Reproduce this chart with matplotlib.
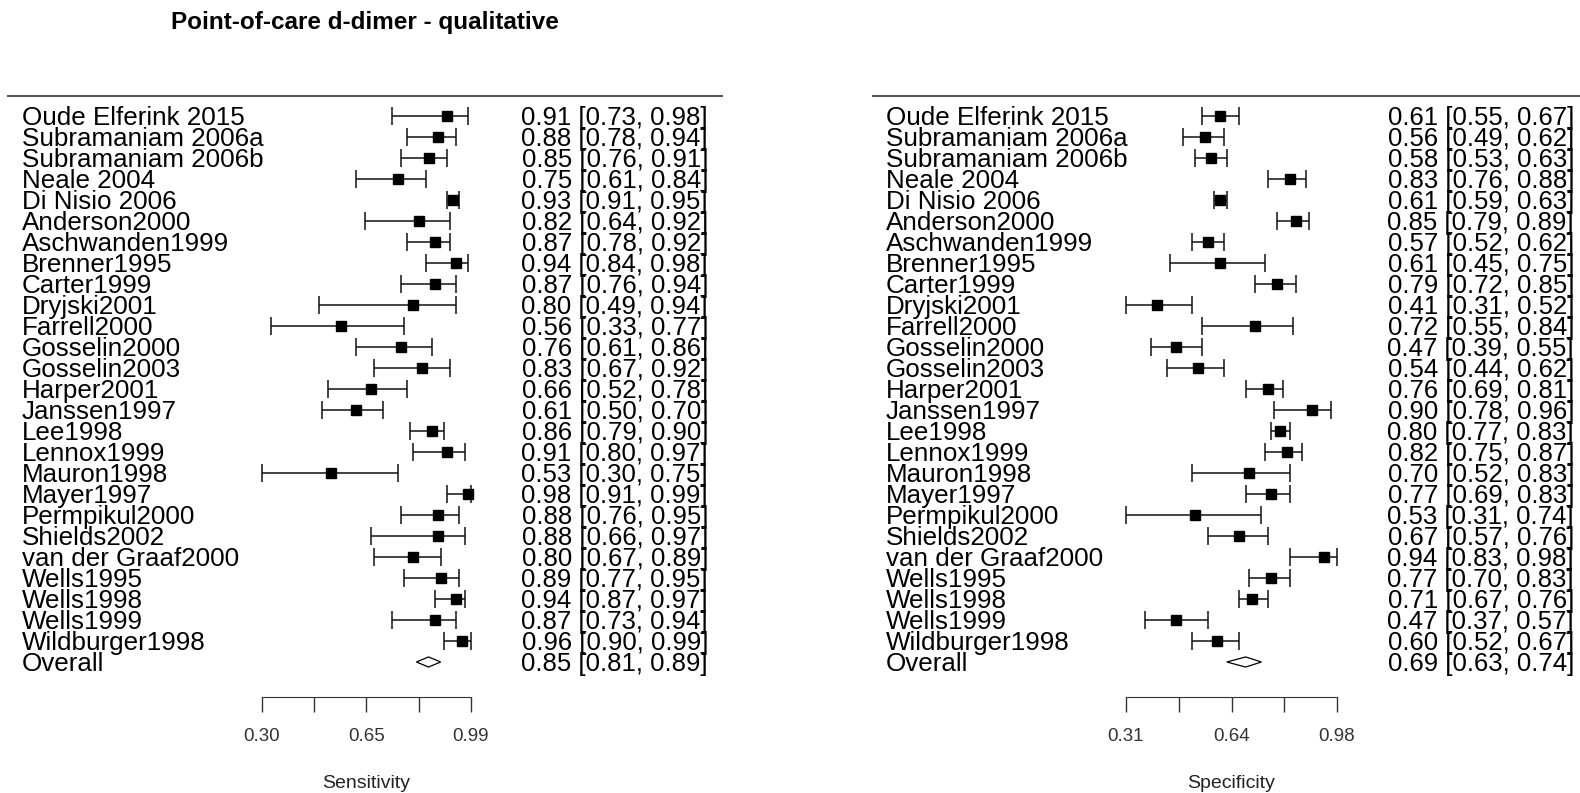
# Forest plot: sensitivity / specificity of point-of-care d-dimer (qualitative)
import numpy as np
import matplotlib.pyplot as plt
from matplotlib.lines import Line2D
from matplotlib import transforms

plt.rcParams['font.family'] = ['Liberation Sans', 'DejaVu Sans']

# data
studies = ['Oude Elferink 2015', 'Subramaniam 2006a', 'Subramaniam 2006b', 'Neale 2004',
           'Di Nisio 2006', 'Anderson2000', 'Aschwanden1999', 'Brenner1995', 'Carter1999',
           'Dryjski2001', 'Farrell2000', 'Gosselin2000', 'Gosselin2003', 'Harper2001',
           'Janssen1997', 'Lee1998', 'Lennox1999', 'Mauron1998', 'Mayer1997',
           'Permpikul2000', 'Shields2002', 'van der Graaf2000', 'Wells1995', 'Wells1998',
           'Wells1999', 'Wildburger1998']

sens    = [0.91, 0.88, 0.85, 0.75, 0.93, 0.82, 0.87, 0.94, 0.87, 0.80, 0.56, 0.76, 0.83,
           0.66, 0.61, 0.86, 0.91, 0.53, 0.98, 0.88, 0.88, 0.80, 0.89, 0.94, 0.87, 0.96]
sens_lo = [0.73, 0.78, 0.76, 0.61, 0.91, 0.64, 0.78, 0.84, 0.76, 0.49, 0.33, 0.61, 0.67,
           0.52, 0.50, 0.79, 0.80, 0.30, 0.91, 0.76, 0.66, 0.67, 0.77, 0.87, 0.73, 0.90]
sens_hi = [0.98, 0.94, 0.91, 0.84, 0.95, 0.92, 0.92, 0.98, 0.94, 0.94, 0.77, 0.86, 0.92,
           0.78, 0.70, 0.90, 0.97, 0.75, 0.99, 0.95, 0.97, 0.89, 0.95, 0.97, 0.94, 0.99]

spec    = [0.61, 0.56, 0.58, 0.83, 0.61, 0.85, 0.57, 0.61, 0.79, 0.41, 0.72, 0.47, 0.54,
           0.76, 0.90, 0.80, 0.82, 0.70, 0.77, 0.53, 0.67, 0.94, 0.77, 0.71, 0.47, 0.60]
spec_lo = [0.55, 0.49, 0.53, 0.76, 0.59, 0.79, 0.52, 0.45, 0.72, 0.31, 0.55, 0.39, 0.44,
           0.69, 0.78, 0.77, 0.75, 0.52, 0.69, 0.31, 0.57, 0.83, 0.70, 0.67, 0.37, 0.52]
spec_hi = [0.67, 0.62, 0.63, 0.88, 0.63, 0.89, 0.62, 0.75, 0.85, 0.52, 0.84, 0.55, 0.62,
           0.81, 0.96, 0.83, 0.87, 0.83, 0.83, 0.74, 0.76, 0.98, 0.83, 0.76, 0.57, 0.67]

sens_overall = [0.85, 0.81, 0.89]
spec_overall = [0.69, 0.63, 0.74]

sens_ticks = [0.30, 0.4725, 0.645, 0.8175, 0.99]
sens_ticklabels = ['0.30', '', '0.65', '', '0.99']
spec_ticks = [0.31, 0.4775, 0.645, 0.8125, 0.98]
spec_ticklabels = ['0.31', '', '0.64', '', '0.98']

W, H = 1580, 793
fig = plt.figure(figsize=(W / 100, H / 100), dpi=100)

fig.text(365 / W, 1 - 23 / H, 'Point-of-care d-dimer - qualitative',
         fontsize=17.5, fontweight='bold', ha='center', va='center')

nrow = len(studies) + 1
rows = np.arange(len(studies))


def panel(x0, x1, lab_x, num_x, line_x0, line_x1, est, lo, hi, overall,
          ticks, ticklabels, xlabel):
    ax = fig.add_axes([x0 / W, 1 - 697 / H, (x1 - x0) / W, (697 - 95) / H])
    ax.set_xlim(ticks[0], ticks[-1])
    ax.set_ylim(nrow + 0.667, -1)

    est = np.array(est); lo = np.array(lo); hi = np.array(hi)
    ax.errorbar(est, rows, xerr=[est - lo, hi - est], fmt='s', color='black',
                ecolor='#111111', elinewidth=1.1, capsize=6.5, capthick=1.1,
                markersize=6.5, clip_on=False)

    # summary diamond
    r = len(studies)
    ax.fill([overall[1], overall[0], overall[2], overall[0]],
            [r, r - 0.24, r, r + 0.24], facecolor='white', edgecolor='black',
            lw=0.9, clip_on=False)

    # labels and numbers
    tr = transforms.blended_transform_factory(fig.transFigure, ax.transData)
    names = studies + ['Overall']
    vals = list(zip(est, lo, hi)) + [tuple(overall)]
    for i, (nm, (e, l, h)) in enumerate(zip(names, vals)):
        ax.text(lab_x / W, i + 0.42, nm, transform=tr, ha='left', va='baseline',
                fontsize=18.7)
        ax.text(num_x / W, i + 0.42, f'{e:.2f} [{l:.2f}, {h:.2f}]', transform=tr,
                ha='right', va='baseline', fontsize=18.5)

    # top rule
    fig.add_artist(Line2D([line_x0 / W, line_x1 / W], [1 - 96 / H] * 2,
                          transform=fig.transFigure, color='#555555', lw=1.5))

    for s in ['top', 'left', 'right']:
        ax.spines[s].set_visible(False)
    ax.spines['bottom'].set_color('#333333')
    ax.set_yticks([])
    ax.set_xticks(ticks)
    ax.set_xticklabels(ticklabels)
    ax.tick_params(axis='x', direction='out', length=11, width=1, color='#333333',
                   labelsize=13.5, labelcolor='#333333', pad=11)
    ax.text(0.5, -86 / 602, xlabel, transform=ax.transAxes, ha='center', va='center',
            fontsize=14, color='#222222')
    return ax


panel(261.7, 471, 22, 708, 8, 722, sens, sens_lo, sens_hi, sens_overall,
      sens_ticks, sens_ticklabels, 'Sensitivity')
panel(1126, 1337, 886, 1574, 873, 1580, spec, spec_lo, spec_hi, spec_overall,
      spec_ticks, spec_ticklabels, 'Specificity')

fig.savefig('out.png', dpi=100)
